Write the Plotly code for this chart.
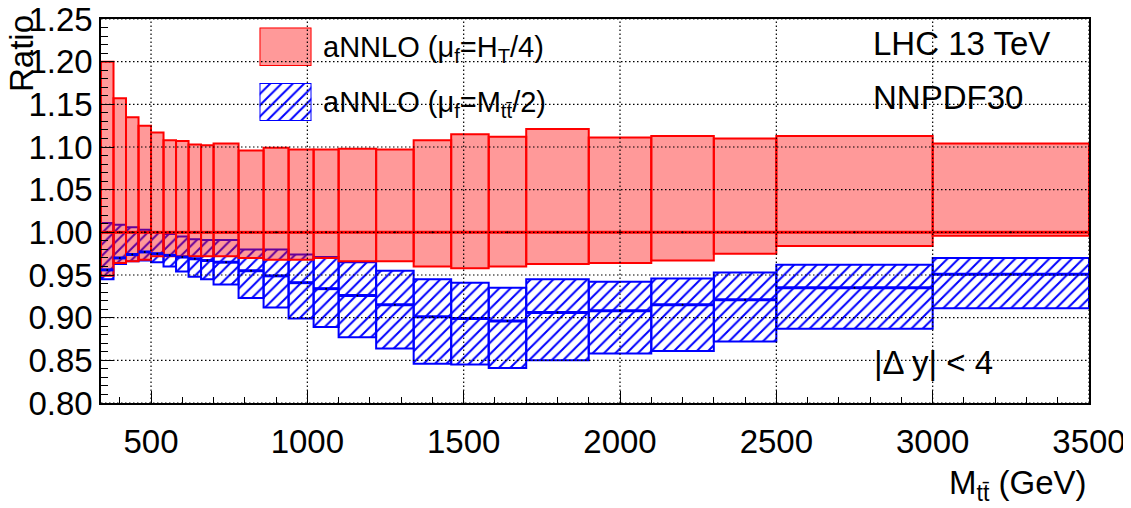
import plotly.graph_objects as go

# ---------------- data ----------------
bin_edges = [340, 380, 420, 460, 500, 540, 580, 620, 660, 700, 780, 860, 940, 1020,
             1100, 1220, 1340, 1460, 1580, 1700, 1900, 2100, 2300, 2500, 3000, 3500]

# aNNLO (mu_f = H_T/4): central / upper / lower
ht_center = [1.000, 1.000, 1.000, 1.000, 1.000, 1.000, 1.000, 1.000, 1.000, 1.000,
             1.000, 1.000, 1.000, 1.000, 1.000, 1.000, 1.000, 1.000, 1.000, 1.000,
             1.000, 1.000, 1.000, 1.000, 1.000]
ht_up = [1.200, 1.157, 1.135, 1.125, 1.117, 1.108, 1.107, 1.103, 1.102, 1.104,
         1.096, 1.099, 1.097, 1.097, 1.098, 1.097, 1.108, 1.115, 1.112, 1.121,
         1.111, 1.113, 1.110, 1.113, 1.104]
ht_dn = [0.949, 0.964, 0.966, 0.968, 0.972, 0.972, 0.972, 0.972, 0.972, 0.972,
         0.970, 0.968, 0.968, 0.970, 0.966, 0.966, 0.960, 0.958, 0.960, 0.963,
         0.964, 0.967, 0.975, 0.984, 0.996]

# aNNLO (mu_f = M_tt/2): central / upper / lower
mtt_center = [0.956, 0.970, 0.974, 0.977, 0.975, 0.973, 0.971, 0.969, 0.967, 0.965,
              0.955, 0.949, 0.941, 0.934, 0.926, 0.915, 0.901, 0.899, 0.896, 0.906,
              0.908, 0.915, 0.921, 0.935, 0.951]
mtt_up = [1.011, 1.009, 1.006, 1.003, 1.000, 0.998, 0.995, 0.992, 0.991, 0.991,
          0.980, 0.980, 0.974, 0.971, 0.965, 0.955, 0.945, 0.941, 0.935, 0.945,
          0.942, 0.946, 0.953, 0.962, 0.970]
mtt_dn = [0.945, 0.963, 0.966, 0.967, 0.965, 0.960, 0.954, 0.948, 0.945, 0.939,
          0.923, 0.912, 0.899, 0.889, 0.877, 0.864, 0.846, 0.845, 0.841, 0.850,
          0.858, 0.861, 0.872, 0.887, 0.911]

x_tick_vals = [500, 1000, 1500, 2000, 2500, 3000, 3500]
x_tick_text = ["500", "1000", "1500", "2000", "2500", "3000", "3500"]
y_tick_vals = [0.80, 0.85, 0.90, 0.95, 1.00, 1.05, 1.10, 1.15, 1.20, 1.25]
y_tick_text = ["0.80", "0.85", "0.90", "0.95", "1.00", "1.05", "1.10", "1.15", "1.20", "1.25"]

legend_labels = ["aNNLO (\u03bc<sub>f</sub>=H<sub>T</sub>/4)",
                 "aNNLO (\u03bc<sub>f</sub>=M<sub>tt\u0304</sub>/2)"]
info_texts = ["LHC 13 TeV", "NNPDF30", "|\u0394 y| < 4"]
x_title = "M<sub>tt\u0304</sub> (GeV)"
y_title = "Ratio"

# ---------------- derived ----------------
lo = bin_edges[:-1]
hi = bin_edges[1:]
centers = [(a + b) / 2 for a, b in zip(lo, hi)]
widths = [b - a for a, b in zip(lo, hi)]


def segments(vals):
    xs, ys = [], []
    for a, b, v in zip(lo, hi, vals):
        xs += [a, b, None]
        ys += [v, v, None]
    return xs, ys


FONT = "Liberation Sans, Arial, Helvetica, sans-serif"
RED_FILL = "rgba(255,0,0,0.4)"
BLUE = "#0000ff"
RED = "#ff0000"

hatch = dict(shape="/", fgcolor=BLUE, bgcolor="rgba(0,0,0,0)", size=8,
             solidity=0.25, fillmode="replace")

fig = go.Figure()

# blue hatched band (drawn first, below the red)
fig.add_trace(go.Bar(
    x=centers, y=[u - d for u, d in zip(mtt_up, mtt_dn)], base=mtt_dn, width=widths,
    marker=dict(color="rgba(0,0,0,0)", line=dict(color=BLUE, width=2), pattern=hatch),
    showlegend=False, hoverinfo="skip"))
bx, by = segments(mtt_center)
fig.add_trace(go.Scatter(x=bx, y=by, mode="lines", line=dict(color=BLUE, width=3),
                         showlegend=False, hoverinfo="skip"))

# red filled band
fig.add_trace(go.Bar(
    x=centers, y=[u - d for u, d in zip(ht_up, ht_dn)], base=ht_dn, width=widths,
    marker=dict(color=RED_FILL, line=dict(color=RED, width=2)),
    showlegend=False, hoverinfo="skip"))
rx, ry = segments(ht_center)
fig.add_trace(go.Scatter(x=rx, y=ry, mode="lines", line=dict(color=RED, width=3),
                         showlegend=False, hoverinfo="skip"))

# tiny central markers
fig.add_trace(go.Scatter(x=centers + centers, y=ht_center + mtt_center, mode="markers",
                         marker=dict(color="black", size=2), showlegend=False,
                         hoverinfo="skip"))

# legend swatches on small auxiliary axes
fig.add_trace(go.Bar(x=[0], y=[1], width=[1], xaxis="x2", yaxis="y2",
                     marker=dict(color=RED_FILL, line=dict(color=RED, width=2)),
                     showlegend=False, hoverinfo="skip"))
fig.add_trace(go.Bar(x=[0], y=[1], width=[1], xaxis="x3", yaxis="y3",
                     marker=dict(color="rgba(0,0,0,0)", line=dict(color=BLUE, width=2),
                                 pattern=hatch),
                     showlegend=False, hoverinfo="skip"))

# dotted grid above the bands
shapes = []
for v in x_tick_vals:
    shapes.append(dict(type="line", xref="x", yref="paper", x0=v, x1=v, y0=0, y1=1,
                       layer="above", line=dict(color="black", width=1.2, dash="1.5px,2.5px")))
for v in y_tick_vals:
    shapes.append(dict(type="line", xref="paper", yref="y", x0=0, x1=1, y0=v, y1=v,
                       layer="above", line=dict(color="black", width=1.2, dash="1.5px,2.5px")))

# The page body has an 8px margin, so the figure is shifted by OFF pixels.
OFF = 8
VW, VH = 1131, 508
W, H = VW - OFF, VH - OFF
PL, PR, PT, PB = 101, 1089, 19, 403      # plot area in window pixels
L, T = PL - OFF, PT - OFF
R = VW - PR
B = VH - PB
pw, ph = PR - PL, PB - PT


def px(xp):
    return (xp - PL) / pw


def py(yp):
    return (PB - yp) / ph


def ann(text, x, y, size, xanchor="left", angle=0):
    return dict(text=text, x=px(x), y=py(y), xref="paper", yref="paper",
                xanchor=xanchor, yanchor="middle", textangle=angle, showarrow=False,
                font=dict(family=FONT, size=size, color="black"))


annotations = [
    ann(legend_labels[0], 321, 49, 29),
    ann(legend_labels[1], 321, 104, 29),
    ann(info_texts[0], 871, 43, 33),
    ann(info_texts[1], 871, 97, 33),
    ann(info_texts[2], 872, 362, 33),
    ann(x_title, PR, 485, 33, xanchor="right"),
    ann(y_title, 21, 54, 33, xanchor="center", angle=-90),
]

fig.update_layout(
    width=W, height=H,
    margin=dict(l=L, r=R, t=T, b=B, autoexpand=False),
    paper_bgcolor="white", plot_bgcolor="white",
    barmode="overlay",
    showlegend=False,
    font=dict(family=FONT, color="black"),
    shapes=shapes,
    annotations=annotations,
    xaxis=dict(range=[bin_edges[0], bin_edges[-1]], tickmode="array",
               tickvals=x_tick_vals, ticktext=x_tick_text, showgrid=False,
               zeroline=False, showline=True, linecolor="black", linewidth=1.5,
               mirror=True, ticks="inside", ticklen=12, tickwidth=1.2, tickcolor="black",
               tickfont=dict(family=FONT, size=33, color="black"),
               ticklabelstandoff=9, automargin=False, ticklabeloverflow="allow",
               minor=dict(ticks="inside", ticklen=6, tickwidth=1.2, tickcolor="black",
                          dtick=100, tick0=0, showgrid=False)),
    yaxis=dict(range=[y_tick_vals[0], y_tick_vals[-1]], tickmode="array",
               tickvals=y_tick_vals, ticktext=y_tick_text, showgrid=False,
               zeroline=False, showline=True, linecolor="black", linewidth=1.5,
               mirror=True, ticks="inside", ticklen=13, tickwidth=1.2, tickcolor="black",
               tickfont=dict(family=FONT, size=33, color="black"),
               ticklabelstandoff=0, automargin=False, ticklabeloverflow="allow",
               minor=dict(ticks="inside", ticklen=7, tickwidth=1.2, tickcolor="black",
                          dtick=0.01, tick0=0.8, showgrid=False)),
    xaxis2=dict(domain=[px(259.5), px(311.5)], range=[-0.5, 0.5], visible=False,
                anchor="y2", fixedrange=True),
    yaxis2=dict(domain=[py(66), py(27.5)], range=[0, 1], visible=False,
                anchor="x2", fixedrange=True),
    xaxis3=dict(domain=[px(259.5), px(311.5)], range=[-0.5, 0.5], visible=False,
                anchor="y3", fixedrange=True),
    yaxis3=dict(domain=[py(121), py(83)], range=[0, 1], visible=False,
                anchor="x3", fixedrange=True),
)

fig.write_html("out.html")
